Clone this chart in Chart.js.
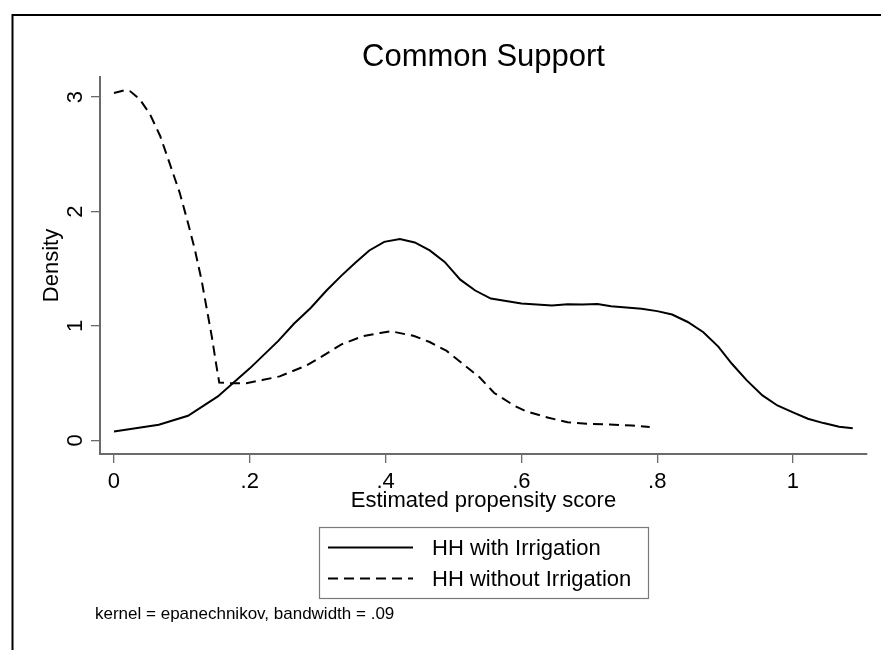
<!DOCTYPE html>
<html>
<head>
<meta charset="utf-8">
<script src="https://cdn.jsdelivr.net/npm/chart.js@4.4.1/dist/chart.umd.min.js"></script>
<style>
  html, body { margin: 0; padding: 0; background: #fff; }
  #wrap { width: 881px; height: 650px; position: relative; }
</style>
</head>
<body>
<div id="wrap"><canvas id="c" width="881" height="650"></canvas></div>
<script>
// ---- data ----
const titleText = "Common Support";
const xTitle = "Estimated propensity score";
const yTitle = "Density";
const noteText = "kernel = epanechnikov, bandwidth = .09";
const seriesNames = ["HH with Irrigation", "HH without Irrigation"];

const xTickValues = [0, 0.2, 0.4, 0.6, 0.8, 1];
const xTickLabels = ["0", ".2", ".4", ".6", ".8", "1"];
const yTickValues = [0, 1, 2, 3];
const yTickLabels = ["0", "1", "2", "3"];

const withX = [0, 0.066, 0.109, 0.153, 0.2, 0.242, 0.265, 0.29, 0.313, 0.335, 0.355, 0.376, 0.398, 0.421, 0.443, 0.465, 0.487, 0.51, 0.532, 0.555, 0.6, 0.645, 0.668, 0.69, 0.712, 0.732, 0.777, 0.8, 0.822, 0.845, 0.868, 0.89, 0.91, 0.932, 0.955, 0.977, 1.0, 1.022, 1.045, 1.068, 1.088];
const withY = [0.079, 0.137, 0.216, 0.385, 0.63, 0.87, 1.02, 1.16, 1.31, 1.44, 1.55, 1.66, 1.735, 1.76, 1.73, 1.66, 1.56, 1.405, 1.31, 1.24, 1.196, 1.18, 1.19, 1.187, 1.193, 1.172, 1.15, 1.13, 1.10, 1.035, 0.946, 0.82, 0.67, 0.525, 0.394, 0.306, 0.245, 0.19, 0.152, 0.12, 0.107];

const withoutX = [0, 0.016, 0.024, 0.038, 0.053, 0.068, 0.082, 0.097, 0.109, 0.119, 0.129, 0.136, 0.144, 0.151, 0.155, 0.17, 0.195, 0.22, 0.244, 0.284, 0.313, 0.335, 0.366, 0.392, 0.408, 0.442, 0.465, 0.49, 0.515, 0.538, 0.56, 0.589, 0.606, 0.64, 0.668, 0.696, 0.73, 0.763, 0.789];
const withoutY = [3.036, 3.06, 3.05, 2.98, 2.85, 2.66, 2.42, 2.16, 1.9, 1.67, 1.40, 1.17, 0.91, 0.647, 0.507, 0.50, 0.50, 0.53, 0.56, 0.656, 0.758, 0.84, 0.91, 0.939, 0.954, 0.913, 0.86, 0.782, 0.664, 0.554, 0.415, 0.306, 0.257, 0.198, 0.16, 0.146, 0.14, 0.131, 0.117];

const FONT = '"Liberation Sans", Arial, Helvetica, sans-serif';
const AXIS_COLOR = '#6a6a6a';
const DASH = [10, 6];

function pts(xs, ys) { return xs.map((x, i) => ({ x: x, y: ys[i] })); }

const decorPlugin = {
  id: 'decor',
  afterDraw(chart) {
    const ctx = chart.ctx;
    const ca = chart.chartArea;
    const xs = chart.scales.x, ys = chart.scales.y;
    ctx.save();
    // outer frame (only top and left visible)
    ctx.strokeStyle = '#000';
    ctx.lineWidth = 2;
    ctx.strokeRect(12.5, 15, 2000, 2000);

    ctx.fillStyle = '#000';
    // title
    ctx.font = '31px ' + FONT;
    ctx.textAlign = 'center';
    ctx.textBaseline = 'alphabetic';
    ctx.fillText(titleText, (ca.left + ca.right) / 2, 66);

    // x tick labels
    ctx.font = '22px ' + FONT;
    xTickValues.forEach((v, i) => {
      ctx.fillText(xTickLabels[i], xs.getPixelForValue(v), 488);
    });
    // x title
    ctx.fillText(xTitle, (ca.left + ca.right) / 2, 507);

    // y tick labels (rotated)
    yTickValues.forEach((v, i) => {
      ctx.save();
      ctx.translate(82, ys.getPixelForValue(v));
      ctx.rotate(-Math.PI / 2);
      ctx.fillText(yTickLabels[i], 0, 0);
      ctx.restore();
    });
    // y title
    ctx.save();
    ctx.translate(58, (ca.top + ca.bottom) / 2);
    ctx.rotate(-Math.PI / 2);
    ctx.fillText(yTitle, 0, 0);
    ctx.restore();

    // legend box
    ctx.strokeStyle = '#7a7a7a';
    ctx.lineWidth = 1.2;
    ctx.strokeRect(319.5, 527.5, 329, 71);
    const rows = [547.5, 578.5];
    chart.data.datasets.forEach((ds, i) => {
      ctx.strokeStyle = '#000';
      ctx.lineWidth = 2;
      ctx.setLineDash(ds.borderDash || []);
      ctx.beginPath();
      ctx.moveTo(328, rows[i]);
      ctx.lineTo(413, rows[i]);
      ctx.stroke();
      ctx.setLineDash([]);
      ctx.textAlign = 'left';
      ctx.textBaseline = 'middle';
      ctx.font = '22px ' + FONT;
      ctx.fillText(ds.label, 432, rows[i] + 1.5);
    });

    // note
    ctx.font = '17px ' + FONT;
    ctx.textAlign = 'left';
    ctx.textBaseline = 'alphabetic';
    ctx.fillText(noteText, 95, 619);
    ctx.restore();
  }
};

new Chart(document.getElementById('c'), {
  type: 'line',
  data: {
    datasets: [
      {
        label: seriesNames[0],
        data: pts(withX, withY),
        borderColor: '#000',
        borderWidth: 2,
        pointRadius: 0,
        tension: 0,
        fill: false
      },
      {
        label: seriesNames[1],
        data: pts(withoutX, withoutY),
        borderColor: '#000',
        borderWidth: 2,
        borderDash: DASH,
        pointRadius: 0,
        tension: 0,
        fill: false
      }
    ]
  },
  options: {
    responsive: false,
    devicePixelRatio: 1,
    animation: false,
    layout: { padding: { left: 0, right: 14, top: 77, bottom: 0 } },
    plugins: {
      legend: { display: false },
      title: { display: false },
      tooltip: { enabled: false }
    },
    scales: {
      x: {
        type: 'linear',
        min: -0.0206,
        max: 1.109,
        afterBuildTicks(s) { s.ticks = xTickValues.map(v => ({ value: v })); },
        afterFit(s) { s.height = 196; },
        ticks: { display: false },
        grid: { drawOnChartArea: false, drawTicks: true, tickLength: 9, color: AXIS_COLOR, lineWidth: 1.3 },
        border: { display: true, color: AXIS_COLOR, width: 2 }
      },
      y: {
        type: 'linear',
        min: -0.118,
        max: 3.175,
        afterBuildTicks(s) { s.ticks = yTickValues.map(v => ({ value: v })); },
        afterFit(s) { s.width = 100; },
        ticks: { display: false },
        grid: { drawOnChartArea: false, drawTicks: true, tickLength: 9, color: AXIS_COLOR, lineWidth: 1.3 },
        border: { display: true, color: AXIS_COLOR, width: 2 }
      }
    }
  },
  plugins: [decorPlugin]
});
</script>
</body>
</html>
